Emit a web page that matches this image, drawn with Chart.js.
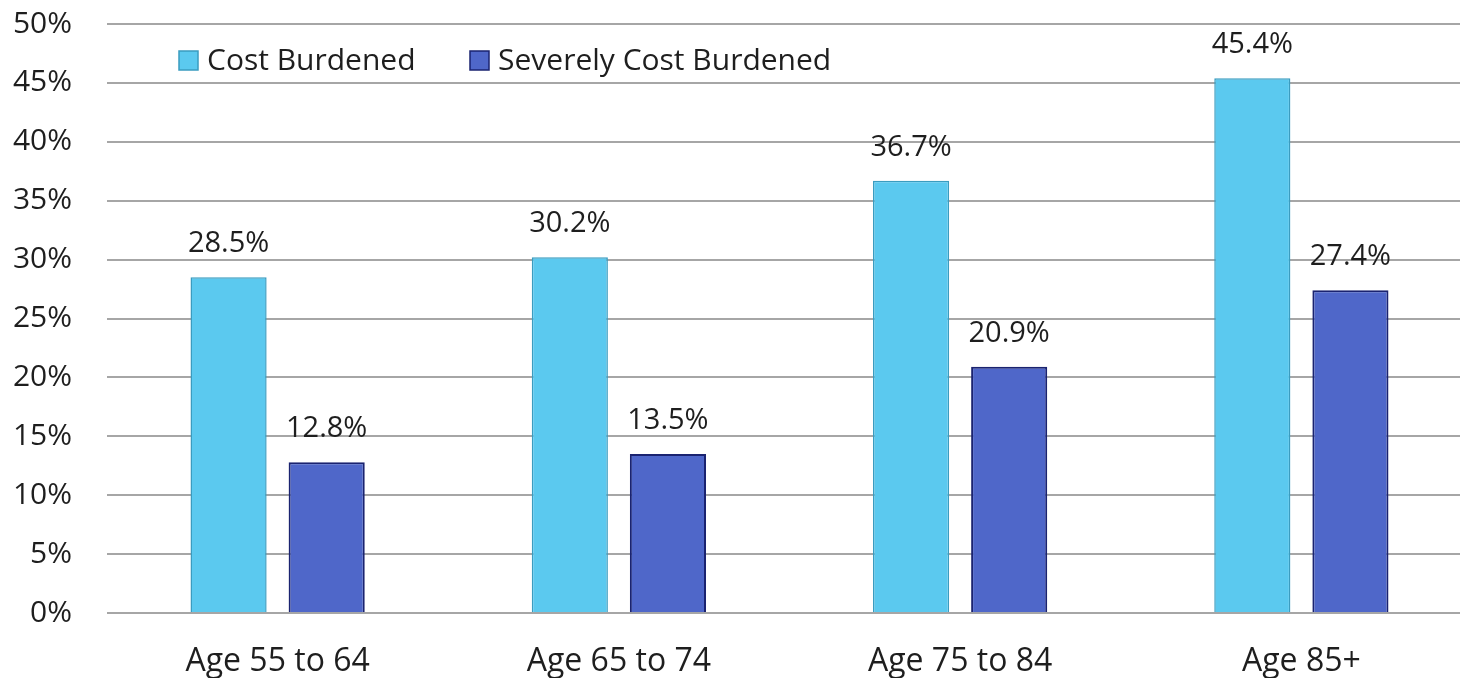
<!DOCTYPE html>
<html>
<head>
<meta charset="utf-8">
<script src="https://cdn.jsdelivr.net/npm/chart.js@4.4.1/dist/chart.umd.min.js"></script>
<style>
  html, body { margin: 0; padding: 0; background: #fff; overflow: hidden; }
  #wrap { width: 1472px; height: 678px; }
</style>
</head>
<body>
<div id="wrap"><canvas id="c" width="1472" height="678"></canvas></div>
<script>
// Share of older households paying too much for housing, by age group
const categories = ['Age 55 to 64', 'Age 65 to 74', 'Age 75 to 84', 'Age 85+'];
const costBurdened = [28.5, 30.2, 36.7, 45.4];
const severelyCostBurdened = [12.8, 13.5, 20.9, 27.4];
const yTicks = [0, 5, 10, 15, 20, 25, 30, 35, 40, 45, 50];

const FONT = "'Open Sans', 'Noto Sans', sans-serif";

// Value labels above each bar
const valueLabels = {
  id: 'valueLabels',
  afterDatasetsDraw(chart) {
    const ctx = chart.ctx;
    ctx.save();
    ctx.font = `29px ${FONT}`;
    ctx.fillStyle = '#1e1e1e';
    ctx.textAlign = 'center';
    ctx.textBaseline = 'alphabetic';
    chart.data.datasets.forEach((ds, i) => {
      chart.getDatasetMeta(i).data.forEach((bar, j) => {
        ctx.fillText(ds.data[j].toFixed(1) + '%', bar.x, bar.y - 25);
      });
    });
    ctx.restore();
  }
};

// Legend drawn inside the plot, top-left
const insideLegend = {
  id: 'insideLegend',
  afterDraw(chart) {
    const ctx = chart.ctx;
    const positions = [179, 470];
    ctx.save();
    ctx.font = `30px ${FONT}`;
    ctx.textBaseline = 'middle';
    ctx.textAlign = 'left';
    chart.data.datasets.forEach((ds, i) => {
      const x = positions[i], y = 60;
      ctx.fillStyle = ds.backgroundColor;
      ctx.fillRect(x, y - 9, 19, 19);
      ctx.strokeStyle = ds.borderColor;
      ctx.lineWidth = 1.5;
      ctx.strokeRect(x, y - 9, 19, 19);
      ctx.fillStyle = '#1e1e1e';
      ctx.fillText(ds.label, x + 28, y + 1);
    });
    ctx.restore();
  }
};

new Chart(document.getElementById('c'), {
  type: 'bar',
  data: {
    labels: categories,
    datasets: [
      {
        label: 'Cost Burdened',
        data: costBurdened,
        backgroundColor: '#5BC9EF',
        borderColor: '#3A9CC0',
        borderWidth: 1.5,
        categoryPercentage: 0.575,
        barPercentage: 0.776
      },
      {
        label: 'Severely Cost Burdened',
        data: severelyCostBurdened,
        backgroundColor: '#4F67C9',
        borderColor: '#1A2370',
        borderWidth: 2,
        categoryPercentage: 0.575,
        barPercentage: 0.776
      }
    ]
  },
  options: {
    responsive: false,
    animation: false,
    layout: { autoPadding: false, padding: { top: 24, right: 0, bottom: 0, left: 0 } },
    plugins: {
      legend: { display: false },
      tooltip: { enabled: false }
    },
    scales: {
      x: {
        grid: { display: false },
        border: { display: false },
        ticks: {
          color: '#1e1e1e',
          font: { family: FONT, size: 32 },
          padding: 22,
          maxRotation: 0
        },
        afterFit(scale) { scale.height = 65; }
      },
      y: {
        min: 0,
        max: 50,
        afterBuildTicks(scale) { scale.ticks = yTicks.map(v => ({ value: v })); },
        grid: { color: '#A6A6A6', lineWidth: 2, drawTicks: false },
        border: { display: false },
        ticks: {
          color: '#1e1e1e',
          font: { family: FONT, size: 30 },
          padding: 35,
          callback: v => v + '%'
        },
        afterFit(scale) { scale.width = 107; scale.paddingTop = 0; scale.paddingBottom = 0; }
      }
    }
  },
  plugins: [valueLabels, insideLegend]
});
</script>
</body>
</html>
